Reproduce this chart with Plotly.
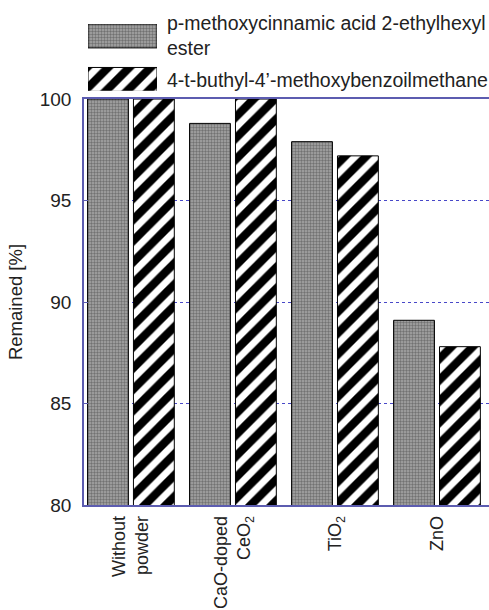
import plotly.graph_objects as go

categories = ["Without<br>powder", "CaO-doped<br>CeO<sub>2</sub>", "TiO<sub>2</sub>", "ZnO"]
series_names = ["p-methoxycinnamic acid 2-ethylhexyl<br>ester", "4-t-buthyl-4\u2019-methoxybenzoilmethane"]
ester_values = [100.0, 98.8, 97.9, 89.1]
buthyl_values = [100.0, 100.0, 97.2, 87.8]
y_ticks = [80, 85, 90, 95, 100]

FONT = "Liberation Sans, Arial, sans-serif"
AXC = "#5c5cb0"

gray_pattern = dict(shape=".", fgcolor="#3a3a3a", bgcolor="#a8a8a8", size=3, solidity=0.5)
hatch_pattern = dict(shape="/", fgcolor="#000000", bgcolor="#ffffff", size=15, solidity=0.55, fgopacity=1)

fig = go.Figure()
fig.add_trace(go.Bar(x=categories, y=ester_values, name=series_names[0],
                     marker=dict(color="#a8a8a8", pattern=gray_pattern, line=dict(color="#000", width=1)),
                     showlegend=False))
fig.add_trace(go.Bar(x=categories, y=buthyl_values, name=series_names[1],
                     marker=dict(color="#ffffff", pattern=hatch_pattern, line=dict(color="#000", width=1)),
                     showlegend=False))

# legend keys on an auxiliary axis
fig.add_trace(go.Bar(x=[1], y=[0], orientation="h", width=0.55, xaxis="x2", yaxis="y2",
                     marker=dict(color="#a8a8a8", pattern=gray_pattern, line=dict(color="#000", width=1)),
                     showlegend=False, hoverinfo="skip"))
fig.add_trace(go.Bar(x=[1], y=[1], orientation="h", width=0.55, xaxis="x2", yaxis="y2",
                     marker=dict(color="#ffffff", pattern=hatch_pattern, line=dict(color="#000", width=1)),
                     showlegend=False, hoverinfo="skip"))

fig.add_annotation(x=0.2, y=0.977, xref="paper", yref="paper", xanchor="left", yanchor="middle",
                   text=series_names[0], showarrow=False, align="left",
                   font=dict(family=FONT, size=19.5, color="#222"))
fig.add_annotation(x=0.2, y=0.8836, xref="paper", yref="paper", xanchor="left", yanchor="middle",
                   text=series_names[1], showarrow=False, align="left",
                   font=dict(family=FONT, size=19.5, color="#222"))

fig.update_layout(
    width=489, height=610,
    margin=dict(l=84, r=0, t=24, b=105, autoexpand=False),
    paper_bgcolor="white", plot_bgcolor="white",
    barmode="group", bargap=0.1, bargroupgap=0.11,
    font=dict(family=FONT, size=18, color="#222"),
    xaxis=dict(domain=[0, 1], range=[-0.46, 3.51], showline=True, linecolor=AXC, linewidth=1.5,
               mirror=True, showgrid=False, ticks="", tickangle=-90, ticklabelstandoff=2,
               automargin=False,
               tickfont=dict(family=FONT, size=18, color="#222")),
    yaxis=dict(domain=[0, 0.844], range=[80, 100], tickvals=y_ticks, showline=True, linecolor=AXC,
               linewidth=1.5, showgrid=True, gridcolor="#4848c8", griddash="dot", gridwidth=1,
               ticks="inside", ticklen=4, tickcolor=AXC, ticklabelstandoff=7, automargin=False,
               tickfont=dict(family=FONT, size=19, color="#222"),
               title=dict(text="Remained [%]", standoff=12, font=dict(family=FONT, size=18.5, color="#222")),
               zeroline=False),
    xaxis2=dict(domain=[0.00988, 0.1802], range=[0, 1], anchor="y2", visible=False, fixedrange=True),
    yaxis2=dict(domain=[0.861, 1.0], range=[1.264, -0.276], anchor="x2", visible=False, fixedrange=True),
)

fig.write_html("out.html")
